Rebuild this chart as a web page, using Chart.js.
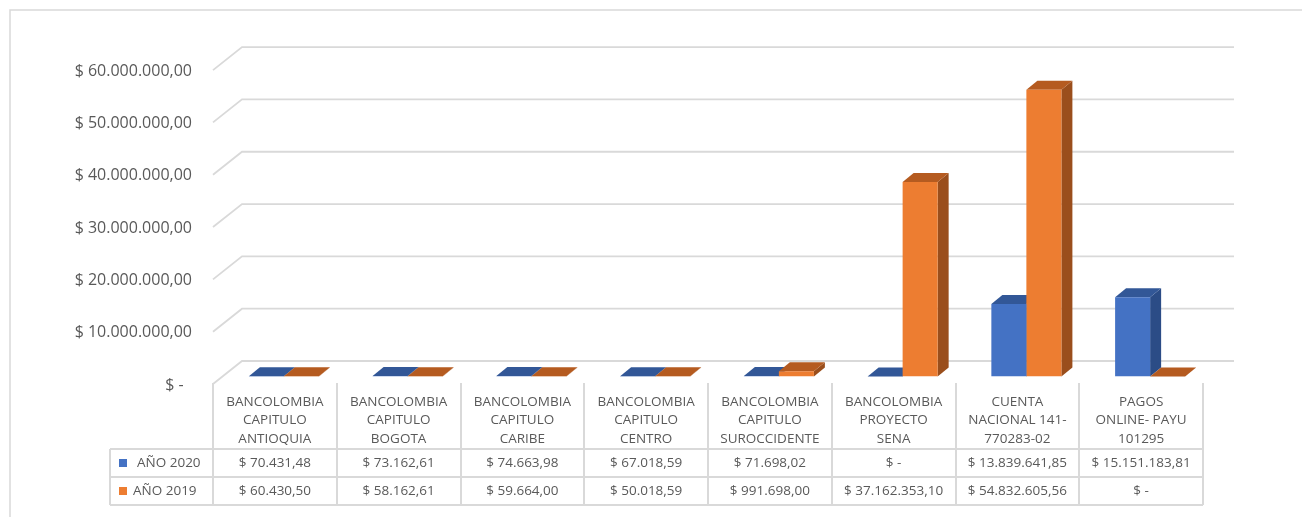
<!DOCTYPE html>
<html>
<head>
<meta charset="utf-8">
<script src="https://cdn.jsdelivr.net/npm/chart.js@4.4.1/dist/chart.umd.min.js"></script>
<style>
  html, body { margin: 0; padding: 0; background: #ffffff; }
  #wrap { width: 1302px; height: 517px; position: relative; }
  canvas { display: block; }
</style>
</head>
<body>
<div id="wrap"><canvas id="c" width="1302" height="517"></canvas></div>
<script>
// ---- data ----
const categories = [
  ["BANCOLOMBIA", "CAPITULO", "ANTIOQUIA"],
  ["BANCOLOMBIA", "CAPITULO", "BOGOTA"],
  ["BANCOLOMBIA", "CAPITULO", "CARIBE"],
  ["BANCOLOMBIA", "CAPITULO", "CENTRO"],
  ["BANCOLOMBIA", "CAPITULO", "SUROCCIDENTE"],
  ["BANCOLOMBIA", "PROYECTO", "SENA"],
  ["CUENTA", "NACIONAL 141-", "770283-02"],
  ["PAGOS", "ONLINE- PAYU", "101295"]
];
const seriesLabels = ["AÑO 2020", "AÑO 2019"];
const values2020 = [70431.48, 73162.61, 74663.98, 67018.59, 71698.02, 0, 13839641.85, 15151183.81];
const values2019 = [60430.50, 58162.61, 59664.00, 50018.59, 991698.00, 37162353.10, 54832605.56, 0];
const yMin = 0;
const yMax = 60000000;
const yStep = 10000000;

// ---- styles ----
const FONT = "'Open Sans', 'DejaVu Sans', sans-serif";
const TEXT = "#595959";
const GRID = "#d9d9d9";
const colors = {
  front: ["#4472C4", "#ED7D31"],
  top:   ["#325797", "#B55B20"],
  side:  ["#2B4C86", "#9A4E1C"]
};
const DX = 11, DY = 9;          // bar depth
const BACK_DY = 15.5, BACK_X = 242, BACK_RIGHT = 1234; // back wall
const FRONT_DY = 7.5, FRONT_X = 213;                    // front of floor / side wall
const TABLE_SHIFT = -9;         // table columns vs bar plane
const ROW_TOP = 383, ROW1 = 449, ROW2 = 477, ROW3 = 505, LEG_LEFT = 110;

function fmtMoney(v) {
  if (v === 0) return "$ -";
  const parts = v.toFixed(2).split(".");
  return "$ " + parts[0].replace(/\B(?=(\d{3})+(?!\d))/g, ".") + "," + parts[1];
}

const decor = {
  id: "decor",
  beforeDraw(chart) {
    const ctx = chart.ctx;
    ctx.save();
    ctx.strokeStyle = GRID;
    ctx.lineWidth = 1.5;
    ctx.strokeRect(10, 10, 1400, 600);
    ctx.restore();
  },
  beforeDatasetsDraw(chart) {
    const ctx = chart.ctx;
    const ys = chart.scales.y;
    ctx.save();
    ctx.strokeStyle = GRID;
    ctx.lineWidth = 1.8;
    for (let v = yMin; v <= yMax; v += yStep) {
      const py = ys.getPixelForValue(v);
      ctx.beginPath();
      ctx.moveTo(FRONT_X, py + FRONT_DY);
      ctx.lineTo(BACK_X, py - BACK_DY);
      ctx.lineTo(BACK_RIGHT, py - BACK_DY);
      ctx.stroke();
    }
    chart.data.datasets.forEach((ds, di) => {
      const meta = chart.getDatasetMeta(di);
      meta.data.forEach((el) => {
        const p = el.getProps(["x", "y", "base", "width"], true);
        const l = p.x - p.width / 2, r = p.x + p.width / 2, t = p.y, b = p.base;
        ctx.fillStyle = colors.side[di];
        ctx.beginPath();
        ctx.moveTo(r, t); ctx.lineTo(r + DX, t - DY); ctx.lineTo(r + DX, b - DY); ctx.lineTo(r, b);
        ctx.closePath(); ctx.fill();
        ctx.fillStyle = colors.top[di];
        ctx.beginPath();
        ctx.moveTo(l, t); ctx.lineTo(r, t); ctx.lineTo(r + DX, t - DY); ctx.lineTo(l + DX, t - DY);
        ctx.closePath(); ctx.fill();
      });
    });
    ctx.restore();
  },
  afterDraw(chart) {
    const ctx = chart.ctx;
    const xs = chart.scales.x;
    const n = categories.length;
    const colW = (xs.right - xs.left) / n;
    const colLeft = (i) => xs.getPixelForValue(i) - colW / 2 + TABLE_SHIFT;
    const x0 = colLeft(0), xN = colLeft(n - 1) + colW;
    ctx.save();
    ctx.strokeStyle = GRID;
    ctx.lineWidth = 2;
    for (let i = 0; i <= n; i++) {
      const x = Math.round(x0 + i * colW);
      ctx.beginPath(); ctx.moveTo(x, ROW_TOP); ctx.lineTo(x, ROW3); ctx.stroke();
    }
    ctx.beginPath(); ctx.moveTo(LEG_LEFT, ROW1); ctx.lineTo(LEG_LEFT, ROW3); ctx.stroke();
    [ROW1, ROW2, ROW3].forEach((y) => {
      ctx.beginPath(); ctx.moveTo(LEG_LEFT, y); ctx.lineTo(xN, y); ctx.stroke();
    });
    ctx.fillStyle = TEXT;
    ctx.font = "13.5px " + FONT;
    ctx.textAlign = "center";
    ctx.textBaseline = "middle";
    const rows = [values2020, values2019];
    rows.forEach((vals, ri) => {
      const yc = ri === 0 ? (ROW1 + ROW2) / 2 : (ROW2 + ROW3) / 2;
      vals.forEach((v, i) => {
        ctx.fillText(fmtMoney(v), colLeft(i) + colW / 2, yc);
      });
      ctx.fillStyle = colors.front[ri];
      ctx.fillRect(119, yc - 4, 8, 8);
      ctx.fillStyle = TEXT;
      ctx.textAlign = "left";
      ctx.fillText(seriesLabels[ri], ri === 0 ? 137 : 133, yc);
      ctx.textAlign = "center";
    });
    ctx.restore();
  }
};

new Chart(document.getElementById("c"), {
  type: "bar",
  data: {
    labels: categories,
    datasets: [
      { label: seriesLabels[0], data: values2020, backgroundColor: colors.front[0], borderWidth: 0 },
      { label: seriesLabels[1], data: values2019, backgroundColor: colors.front[1], borderWidth: 0 }
    ]
  },
  options: {
    responsive: false,
    animation: false,
    events: [],
    layout: { padding: { left: 0, right: 90, top: 62.6, bottom: 0 } },
    datasets: { bar: { categoryPercentage: 0.566, barPercentage: 1 } },
    plugins: { legend: { display: false }, tooltip: { enabled: false } },
    scales: {
      x: {
        grid: { display: false, drawTicks: false },
        border: { display: false },
        ticks: {
          color: TEXT,
          font: { family: FONT, size: 13.5, lineHeight: 1.37 },
          padding: 16,
          labelOffset: TABLE_SHIFT,
          maxRotation: 0,
          autoSkip: false
        },
        afterFit(scale) { scale.height = 517 - 376.5; }
      },
      y: {
        min: yMin,
        max: yMax,
        grid: { display: false, drawTicks: false },
        border: { display: false },
        ticks: {
          stepSize: yStep,
          color: TEXT,
          font: { family: FONT, size: 16 },
          padding: 30,
          labelOffset: 8.5,
          callback: (v) => (v === 0 ? "$ -\u00A0\u00A0" : fmtMoney(v))
        },
        afterFit(scale) { scale.width = 222; }
      }
    }
  },
  plugins: [decor]
});
</script>
</body>
</html>
